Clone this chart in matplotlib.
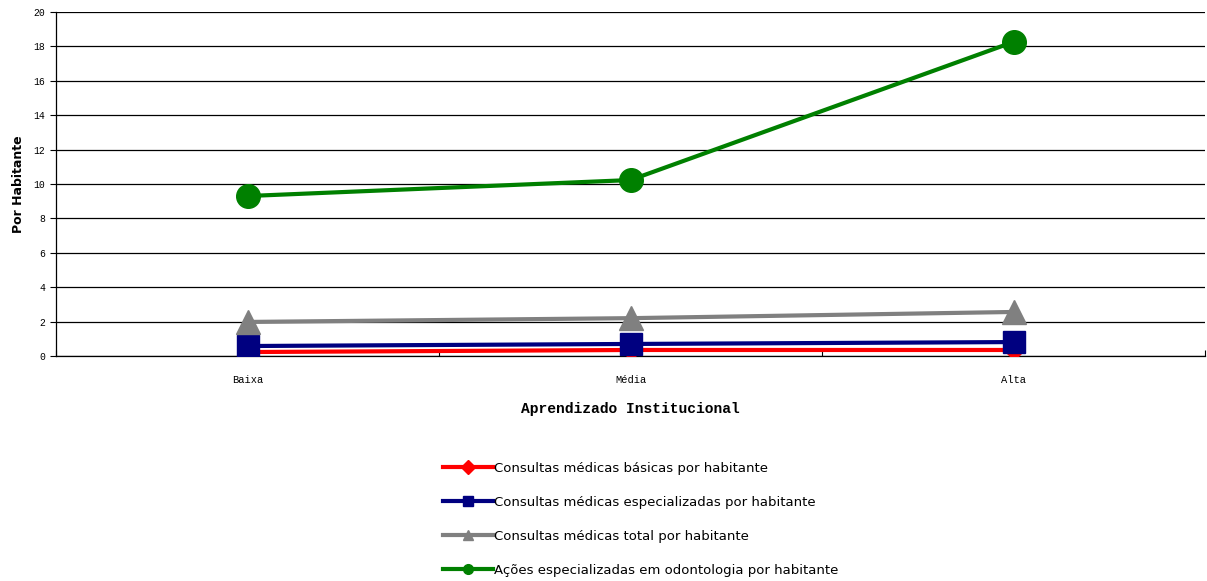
import matplotlib.pyplot as plt
from matplotlib.lines import Line2D

# data
categorias = ['Baixa', 'Média', 'Alta']
basicas = [0.23, 0.35, 0.35]
especializadas = [0.58, 0.70, 0.81]
total = [1.98, 2.20, 2.56]
odontologia = [9.30, 10.23, 18.26]

series = [
    ('Consultas médicas básicas por habitante', basicas, '#ff0000', 'D', 10),
    ('Consultas médicas especializadas por habitante', especializadas, '#000080', 's', 16),
    ('Consultas médicas total por habitante', total, '#808080', '^', 17),
    ('Ações especializadas em odontologia por habitante', odontologia, '#008000', 'o', 17),
]

fig = plt.figure(figsize=(12.07, 5.81), dpi=100)
ax = fig.add_axes([56 / 1207, 1 - 356 / 581, (1205 - 56) / 1207, 344 / 581])

x = list(range(len(categorias)))
for label, vals, color, marker, ms in series:
    ax.plot(x, vals, color=color, lw=3, marker=marker, markersize=ms,
            markeredgecolor=color, zorder=3)

# axes setup
ax.set_xlim(-0.5, 2.5)
ax.set_ylim(0, 20)
ax.set_yticks(range(0, 21, 2))
ax.set_xticks([-0.5, 0.5, 1.5, 2.5])
ax.set_xticklabels([])
ax.set_xticks(x, minor=True)
ax.set_xticklabels(categorias, minor=True, family='Liberation Mono', fontsize=7.5)
ax.tick_params(axis='x', which='minor', length=0, pad=14)
ax.tick_params(axis='x', which='major', length=4, direction='in', width=0.8)
ax.tick_params(axis='y', length=4, width=0.8, labelsize=7, pad=4)
for t in ax.get_yticklabels():
    t.set_family('Liberation Mono')

ax.grid(axis='y', color='black', lw=0.9)
ax.set_axisbelow(True)
for s in ['top', 'right']:
    ax.spines[s].set_visible(False)
ax.spines['left'].set_linewidth(0.9)
ax.spines['bottom'].set_linewidth(0.9)

ax.set_xlabel('Aprendizado Institucional', family='Liberation Mono', fontweight='bold',
              fontsize=10.5, labelpad=12)
ax.set_ylabel('Por Habitante', family='DejaVu Sans', fontweight='heavy', fontsize=9, labelpad=6)

# legend below the plot
handles = [Line2D([], [], color=c, lw=3, marker=m, markersize=7) for _, _, c, m, _ in series]
fig.legend(handles, [s[0] for s in series], loc='upper left', bbox_to_anchor=(436 / 1207, 1 - 455 / 581),
           frameon=False, labelspacing=1.6, handlelength=3.8, handletextpad=0.1,
           borderpad=0, prop={'family': 'DejaVu Sans', 'size': 9.5})

fig.savefig('out.png', dpi=100)
